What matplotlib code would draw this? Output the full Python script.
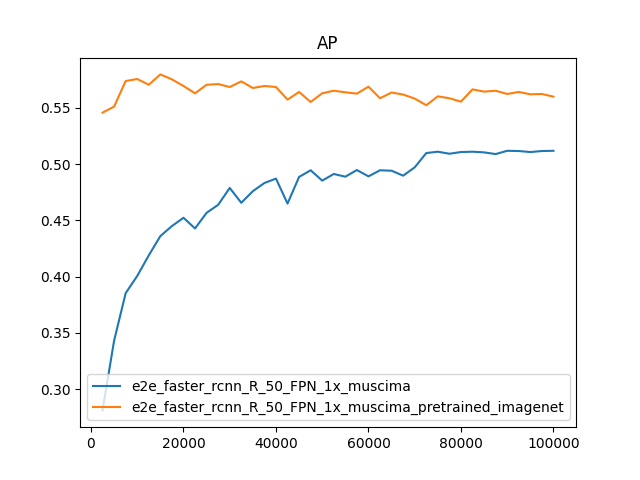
import numpy as np
import matplotlib
matplotlib.use("Agg")
import matplotlib.pyplot as plt

iterations = np.arange(2500, 100001, 2500)

ap_muscima = [
    0.2812, 0.3432, 0.3854, 0.4007, 0.4190, 0.4361, 0.4450, 0.4524, 0.4429, 0.4568,
    0.4639, 0.4789, 0.4657, 0.4760, 0.4833, 0.4872, 0.4650, 0.4887, 0.4946, 0.4854,
    0.4913, 0.4889, 0.4948, 0.4892, 0.4946, 0.4942, 0.4898, 0.4972, 0.5099, 0.5111,
    0.5093, 0.5108, 0.5111, 0.5105, 0.5090, 0.5119, 0.5117, 0.5108, 0.5117, 0.5119,
]

ap_pretrained = [
    0.5458, 0.5512, 0.5739, 0.5757, 0.5706, 0.5798, 0.5754, 0.5695, 0.5630, 0.5706,
    0.5712, 0.5686, 0.5736, 0.5677, 0.5695, 0.5686, 0.5574, 0.5642, 0.5553, 0.5630,
    0.5653, 0.5639, 0.5627, 0.5689, 0.5586, 0.5637, 0.5619, 0.5583, 0.5524, 0.5603,
    0.5586, 0.5556, 0.5665, 0.5645, 0.5653, 0.5624, 0.5642, 0.5621, 0.5624, 0.5600,
]

plt.plot(iterations, ap_muscima, label="e2e_faster_rcnn_R_50_FPN_1x_muscima")
plt.plot(iterations, ap_pretrained, label="e2e_faster_rcnn_R_50_FPN_1x_muscima_pretrained_imagenet")
plt.title("AP")
plt.legend()
plt.savefig("out.png")
